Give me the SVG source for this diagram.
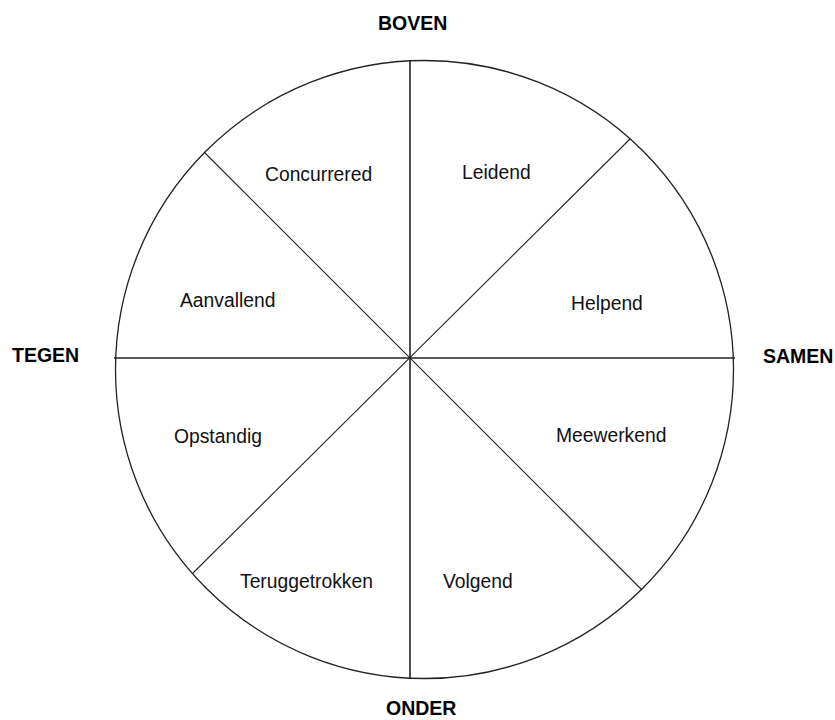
<svg xmlns="http://www.w3.org/2000/svg" width="835" height="720" viewBox="0 0 835 720">
<style>
.lbl{font-family:"Liberation Sans",Arial,sans-serif;font-size:19.3px;fill:#111}
.axis{font-family:"Liberation Sans",Arial,sans-serif;font-size:19.5px;font-weight:bold;fill:#000}
.ln{stroke:#222;fill:none}
</style>
<rect width="835" height="720" fill="#fff"/>
<g id="wheel">
<circle cx="424.5" cy="369.5" r="309" class="ln" stroke-width="1.3"/>
</g>
<g id="connectors">
<line x1="410" y1="61" x2="410" y2="678" class="ln" stroke-width="1.6"/>
<line x1="114" y1="358" x2="735" y2="358" class="ln" stroke-width="1.6"/>
<line x1="204" y1="152" x2="642" y2="590" class="ln" stroke-width="1.1"/>
<line x1="630" y1="139" x2="193" y2="573" class="ln" stroke-width="1.1"/>
</g>
<g id="boven"><text class="axis" x="378" y="30">BOVEN</text></g>
<g id="onder"><text class="axis" x="386" y="715">ONDER</text></g>
<g id="tegen"><text class="axis" x="12" y="362">TEGEN</text></g>
<g id="samen"><text class="axis" x="763" y="363">SAMEN</text></g>
<g id="concurrered"><text class="lbl" x="265" y="181">Concurrered</text></g>
<g id="leidend"><text class="lbl" x="462" y="179">Leidend</text></g>
<g id="helpend"><text class="lbl" x="571" y="310">Helpend</text></g>
<g id="aanvallend"><text class="lbl" x="180" y="307">Aanvallend</text></g>
<g id="opstandig"><text class="lbl" x="174" y="443">Opstandig</text></g>
<g id="meewerkend"><text class="lbl" x="556" y="442">Meewerkend</text></g>
<g id="teruggetrokken"><text class="lbl" x="240" y="588">Teruggetrokken</text></g>
<g id="volgend"><text class="lbl" x="443" y="588">Volgend</text></g>
</svg>
